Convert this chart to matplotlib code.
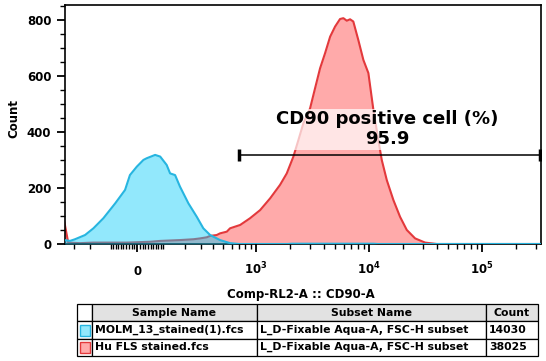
import numpy as np
import matplotlib
matplotlib.use("Agg")
import matplotlib.pyplot as plt
from matplotlib.patches import Rectangle

# biexponential-like display (FlowJo style), approximated with asinh
W = 178.0


def fwd(x):
    return np.arcsinh(np.asarray(x) / W)


def inv(y):
    return W * np.sinh(np.asarray(y))


# histogram traces (channel value, count)
blue_x = [-370, -326, -290, -226, -180, -132, -82, -44, -26, -1, 23, 35, 67, 87, 114,
          129, 152, 176, 222, 274, 320, 374, 466, 578, 700, 1900, 2100, 11000, 12000, 333000]
blue_y = [14, 11, 17, 32, 56, 92, 145, 193, 246, 276, 300, 306, 318, 312, 282,
          252, 246, 205, 145, 97, 56, 32, 14, 3, 0, 0, 1, 1, 0, 0]

red_x = [-370, -340, -256, -182, -38, 48, 87, 176, 253, 297, 347, 374, 433, 466, 539,
         578, 716, 880, 1084, 1332, 1632, 1873, 2145, 2376, 2631, 3015, 3339, 3697, 4094, 4539,
         5020, 5554, 5945, 6372, 6817, 7280, 8063, 8936, 9897, 10965, 12122, 12994, 14400, 16465, 18868,
         21645, 25632, 31435, 39872, 333000]
red_y = [76, 5, 3, 5, 5, 8, 11, 14, 17, 20, 24, 29, 32, 38, 44,
         56, 68, 92, 121, 163, 211, 252, 312, 371, 431, 484, 556, 627, 681, 740,
         776, 803, 806, 797, 802, 794, 728, 657, 610, 478, 371, 300, 228, 157, 97,
         50, 20, 5, 0, 0]

gate_x = [700, 327000]
gate_y = 318
gate_label = "CD90 positive cell (%)\n95.9"

x_major = [0, 1e3, 1e4, 1e5]
x_major_labels = ["0", r"$\mathbf{10^{3}}$", r"$\mathbf{10^{4}}$", r"$\mathbf{10^{5}}$"]
x_minor = ([-300, -200] + list(range(-100, 0, 10)) + list(range(10, 101, 10))
           + list(range(200, 1000, 100)) + list(range(2000, 10000, 1000))
           + list(range(20000, 100000, 10000)) + [200000, 300000])

table_cols = ["", "Sample Name", "Subset Name", "Count"]
table_rows = [["", "MOLM_13_stained(1).fcs", "L_D-Fixable Aqua-A, FSC-H subset", "14030"],
              ["", "Hu FLS stained.fcs", "L_D-Fixable Aqua-A, FSC-H subset", "38025"]]
col_px = [15, 165, 229, 52]

red_line, red_fill = "#e3393c", "#ffaaaa"
blue_line, blue_fill = "#27b5e0", "#0dccf9"

plt.rcParams["font.family"] = "DejaVu Sans"
plt.rcParams["font.weight"] = "bold"

fig = plt.figure(figsize=(5.46, 3.61), dpi=100)
ax = fig.add_axes([64.5 / 546, 1 - 244 / 361, 476.5 / 546, 239 / 361])
ax.set_xscale("function", functions=(fwd, inv))

# red first, blue semi-transparent on top (gives the grey overlap)
ax.fill_between(red_x, red_y, 0, color=red_fill, lw=0, zorder=1)
ax.plot(red_x, red_y, color=red_line, lw=1.5, zorder=2)
ax.fill_between(blue_x, blue_y, 0, color=blue_fill, alpha=0.45, lw=0, zorder=3)
ax.plot(blue_x, blue_y, color=blue_line, lw=1.5, zorder=4)

# gate
ax.plot(gate_x, [gate_y, gate_y], color="black", lw=1.1, zorder=5)
ax.plot(gate_x, [gate_y, gate_y], ls="none", marker="|", ms=8, mew=2.5, color="black", zorder=5)
ax.text(14600, 410, gate_label, ha="center", va="center", ma="center", fontsize=13,
        fontweight="bold", linespacing=1.1, zorder=6,
        bbox=dict(boxstyle="square,pad=0.1", fc="white", ec="none", alpha=0.7))

ax.set_xlim(-370, 333000)
ax.set_ylim(0, 853)

ax.set_xticks(x_major)
ax.set_xticklabels(x_major_labels)
ax.set_xticks(x_minor, minor=True)
ax.set_yticks([0, 200, 400, 600, 800])
ax.set_yticks(np.arange(0, 851, 50), minor=True)

ax.tick_params(which="major", length=6, width=1.3, labelsize=8.5)
ax.tick_params(which="minor", length=3.5, width=1)
ax.tick_params(axis="x", which="major", pad=16)
for lab in ax.get_xticklabels():
    lab.set_fontweight("bold")
    lab.set_va("baseline")
for lab in ax.get_yticklabels():
    lab.set_fontweight("bold")
for sp in ax.spines.values():
    sp.set_linewidth(1.2)

ax.set_xlabel("Comp-RL2-A :: CD90-A", fontsize=8.5, fontweight="bold")
ax.xaxis.set_label_coords(0.496, -0.185)
ax.set_ylabel("Count", fontsize=8.5, fontweight="bold")
ax.yaxis.set_label_coords(-0.092, 0.527)

# legend table
tax = fig.add_axes([77 / 546, 1 - 356 / 361, 461 / 546, 52 / 361])
tax.axis("off")
widths = [c / sum(col_px) for c in col_px]
tbl = tax.table(cellText=table_rows, colLabels=table_cols, colWidths=widths,
                cellLoc="left", colLoc="center", bbox=[0, 0, 1, 1])
tbl.auto_set_font_size(False)
for (r, c), cell in tbl.get_celld().items():
    cell.set_linewidth(0.9)
    cell.get_text().set_fontsize(7.8)
    cell.get_text().set_fontweight("bold")
    cell.PAD = 3.0 / col_px[c]
    if r == 0:
        cell.set_facecolor("#e2e2e2" if c > 0 else "white")

icon_colors = [("#92e8fc", blue_line), (red_fill, red_line)]
for i, (fc, ec) in enumerate(icon_colors):
    row_top = 1 - (18 + 17 * i) / 52
    tax.add_patch(Rectangle((2.5 / 461, row_top - 14 / 52), 10 / 461, 11 / 52,
                            transform=tax.transAxes, fc=fc, ec=ec, lw=1, zorder=10))

fig.savefig("out.png", dpi=100)
